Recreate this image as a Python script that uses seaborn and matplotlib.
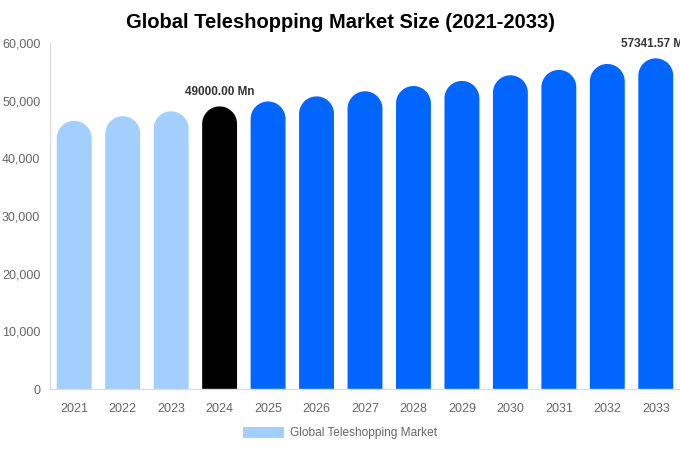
import numpy as np
import pandas as pd
import seaborn as sns
import matplotlib
matplotlib.use("Agg")
from matplotlib import pyplot as plt
from matplotlib.patches import Polygon

years = ["2021", "2022", "2023", "2024", "2025", "2026", "2027",
         "2028", "2029", "2030", "2031", "2032", "2033"]
market_size = [46500, 47300, 48150, 49000, 49860, 50740, 51630,
               52540, 53420, 54400, 55330, 56360, 57341.57]
bar_colors = ["#a3cffe"] * 3 + ["#000000"] + ["#0066ff"] * 9
labelled = {"2024": "49000.00 Mn", "2033": "57341.57 Mn"}

df = pd.DataFrame({"year": years, "size": market_size})

sns.set_theme(style="white")
plt.rcParams["font.family"] = ["Liberation Sans", "DejaVu Sans"]

fig = plt.figure(figsize=(6.8, 4.5), dpi=100)
ax = fig.add_axes([50 / 680, 1 - 389 / 450, 630 / 680, 346 / 450])

sns.barplot(data=df, x="year", y="size", hue="year", palette=bar_colors,
            legend=False, width=0.72, saturation=1, ax=ax)
ax.set_ylim(0, 60000)

# turn each seaborn bar into a pill: same box, semicircular top (circle in pixels)
fig.canvas.draw()
px_per_y = ax.transData.transform((0, 1))[1] - ax.transData.transform((0, 0))[1]
px_per_x = ax.transData.transform((1, 0))[0] - ax.transData.transform((0, 0))[0]
t = np.linspace(0, np.pi, 60)
for p in list(ax.patches):
    w, h, x0 = p.get_width(), p.get_height(), p.get_x()
    rx = w / 2
    ry = rx * px_per_x / px_per_y
    cx = x0 + rx
    arc = np.column_stack([cx + rx * np.cos(t), h - ry + ry * np.sin(t)])
    verts = np.vstack([[x0 + w, 0], arc, [x0, 0]])
    ax.add_patch(Polygon(verts, closed=True, facecolor=p.get_facecolor(),
                         linewidth=0))
    p.set_visible(False)

for i, yr in enumerate(years):
    if yr in labelled:
        ax.annotate(labelled[yr], (i, market_size[i]), xytext=(0, 6),
                    textcoords="offset points", ha="center", va="bottom",
                    fontsize=8.5, fontweight="bold", color="#333333",
                    annotation_clip=False)

ax.set_xlabel("")
ax.set_ylabel("")
ax.set_yticks(range(0, 60001, 10000))
ax.set_yticklabels([f"{v:,}" for v in range(0, 60001, 10000)])
ax.tick_params(axis="both", colors="#666666", labelsize=9, length=0)
ax.tick_params(axis="y", pad=7)
ax.tick_params(axis="x", pad=10)
for s in ["top", "right"]:
    ax.spines[s].set_visible(False)
for s in ["left", "bottom"]:
    ax.spines[s].set_color("#dddddd")
    ax.spines[s].set_linewidth(1)
    ax.spines[s].set_zorder(3)

fig.suptitle("Global Teleshopping Market Size (2021-2033)", x=0.5, y=0.97,
             fontsize=14.5, fontweight="bold", color="#000000")

handle = plt.Rectangle((0, 0), 1, 1, facecolor="#a3cffe", linewidth=0)
fig.legend([handle], ["Global Teleshopping Market"], loc="center",
           bbox_to_anchor=(0.5, 1 - 433 / 450), frameon=False, fontsize=8.6,
           labelcolor="#666666", handlelength=3.4, handleheight=1.1,
           handletextpad=0.5)

plt.savefig("out.png", dpi=100)
